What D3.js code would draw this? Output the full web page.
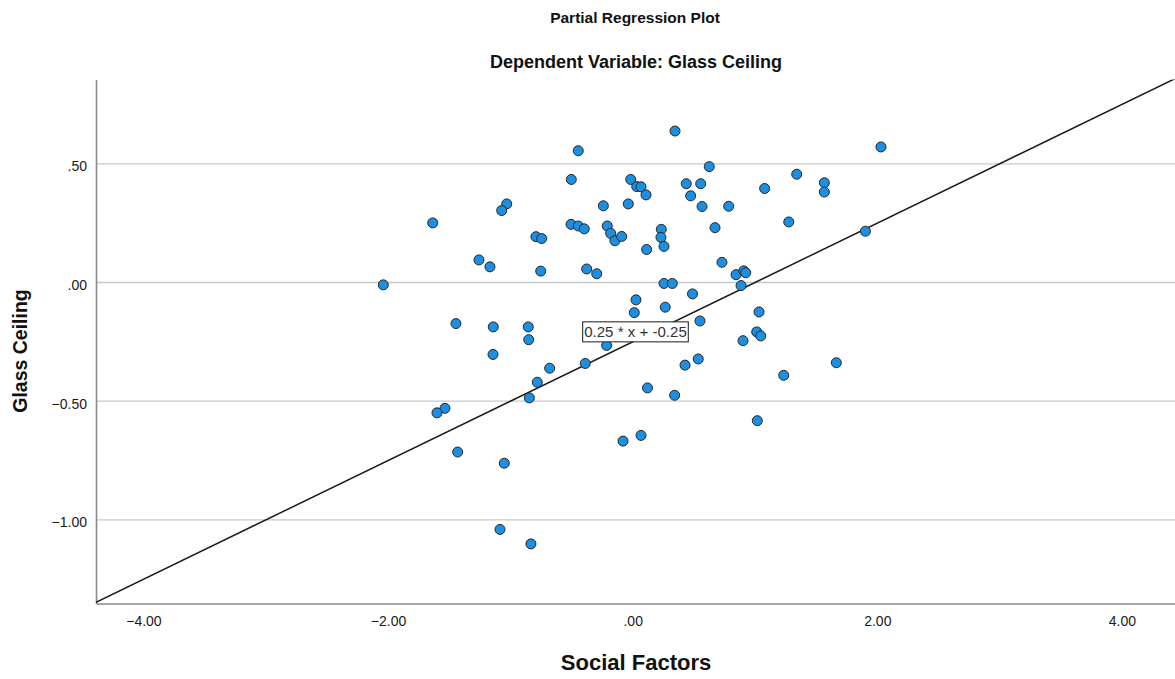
<!DOCTYPE html>
<html>
<head>
<meta charset="utf-8">
<script src="https://cdn.jsdelivr.net/npm/d3@7"></script>
<style>
  body { margin: 0; background: #fff; }
  text { font-family: Arial, "Liberation Sans", sans-serif; }
</style>
</head>
<body>
<svg id="chart" width="1175" height="679"></svg>
<script>
// Partial regression residuals: Social Factors (x) vs Glass Ceiling (y)
const socialFactors = [
  -0.445, -0.502, -0.016, 0.033, 0.068, 0.109, -1.030, -1.071, -1.635, -0.240,
  -0.036, -0.504, -0.445, -0.396, -0.208, -0.180, -0.145, -0.090, 0.234, 0.231,
  0.114, -0.791, -0.744, -1.257, -1.167, -0.752, -0.376, -0.294, -2.039, 0.027,
  0.013, 0.346, 2.030, 0.626, 1.341, 1.567, 1.567, 0.438, 0.556, 0.474,
  1.079, 0.567, 0.785, 1.276, 1.903, 0.673, 0.256, 0.730, 0.845, 0.908,
  0.924, 0.886, 0.256, 0.324, 0.489, 0.266, 1.033, -1.445, -1.140, -0.854,
  -0.850, -1.142, -0.213, -0.388, -0.679, -0.780, -0.845, -1.535, -1.600, 0.121,
  -0.079, 0.068, -1.431, -1.050, -1.085, -0.832, 0.550, 1.014, 1.047, 0.902,
  0.536, 0.428, 1.665, 1.235, 0.343, 1.019
];
const glassCeiling = [
  0.555, 0.434, 0.434, 0.404, 0.403, 0.369, 0.331, 0.303, 0.251, 0.323,
  0.331, 0.245, 0.238, 0.226, 0.238, 0.207, 0.176, 0.194, 0.224, 0.190,
  0.139, 0.193, 0.185, 0.095, 0.066, 0.048, 0.057, 0.037, -0.010, -0.073,
  -0.127, 0.638, 0.571, 0.488, 0.456, 0.420, 0.381, 0.416, 0.416, 0.365,
  0.396, 0.320, 0.321, 0.255, 0.216, 0.231, 0.152, 0.085, 0.033, 0.049,
  0.041, -0.013, -0.004, -0.004, -0.048, -0.104, -0.124, -0.173, -0.187, -0.187,
  -0.241, -0.303, -0.265, -0.341, -0.361, -0.420, -0.486, -0.530, -0.549, -0.444,
  -0.668, -0.644, -0.714, -0.761, -1.040, -1.101, -0.162, -0.208, -0.225, -0.245,
  -0.322, -0.348, -0.338, -0.391, -0.475, -0.582
];
const xTicks = [-4, -2, 0, 2, 4];
const yTicks = [0.5, 0, -0.5, -1];
const fitSlope = 0.25;
const fitIntercept = -0.25;

const titleText = "Partial Regression Plot";
const subtitleText = "Dependent Variable: Glass Ceiling";
const xLabel = "Social Factors";
const yLabel = "Glass Ceiling";

const plot = { left: 96, right: 1175, top: 79.5, bottom: 603.5 };

const svg = d3.select("#chart");

const x = d3.scaleLinear().domain([-4.388, 4.434]).range([plot.left, plot.right]);
const y = d3.scaleLinear().domain([-1.352, 0.855]).range([plot.bottom, plot.top]);

// SPSS-style tick text: ".50", "-.50", "-1.00"
const fmt = v => d3.format(".2f")(v).replace(/^(-?)0\./, "$1.");

// horizontal grid lines
svg.append("g")
  .selectAll("line")
  .data(yTicks)
  .join("line")
  .attr("x1", plot.left)
  .attr("x2", plot.right)
  .attr("y1", d => y(d))
  .attr("y2", d => y(d))
  .attr("stroke", "#c8c8c8")
  .attr("stroke-width", 1.3);

// axes via d3-axis, with tick marks hidden
const xAxis = svg.append("g")
  .attr("transform", `translate(0,${plot.bottom})`)
  .call(d3.axisBottom(x).tickValues(xTicks).tickFormat(fmt).tickSize(0).tickPadding(13));
const yAxis = svg.append("g")
  .attr("transform", `translate(${plot.left},0)`)
  .call(d3.axisLeft(y).tickValues(yTicks).tickFormat(fmt).tickSize(0).tickPadding(9));

[xAxis, yAxis].forEach(g => {
  g.select(".domain").attr("stroke", "#8a8a8a").attr("stroke-width", 1.6);
  g.selectAll("text")
    .attr("fill", "#1a1a1a")
    .style("font-size", "14px")
    .style("font-family", "Arial, 'Liberation Sans', sans-serif");
});
yAxis.selectAll("text").attr("dy", "0.5em");

// fit line clipped to the plot area
svg.append("clipPath").attr("id", "plotClip")
  .append("rect")
  .attr("x", plot.left).attr("y", plot.top)
  .attr("width", plot.right - plot.left).attr("height", plot.bottom - plot.top);

const [x0, x1] = x.domain();
const fitLine = d3.line().x(d => x(d)).y(d => y(fitSlope * d + fitIntercept));
svg.append("path")
  .attr("clip-path", "url(#plotClip)")
  .attr("d", fitLine([x0, x1]))
  .attr("fill", "none")
  .attr("stroke", "#1a1a1a")
  .attr("stroke-width", 1.5);

// points
const points = socialFactors.map((v, i) => ({ x: v, y: glassCeiling[i] }));
svg.append("g")
  .selectAll("circle")
  .data(points)
  .join("circle")
  .attr("cx", d => x(d.x))
  .attr("cy", d => y(d.y))
  .attr("r", 5)
  .attr("fill", "#1d8fe1")
  .attr("stroke", "#262626")
  .attr("stroke-width", 1);

// fit equation label, sitting on the line at x = 0
const eqText = `${fitSlope} * x + ${fitIntercept}`;
const eqG = svg.append("g");
const eqBottom = y(fitSlope * 0 + fitIntercept);
const eqCx = x(0) + 2.8;
const eqW = 105.6, eqH = 20;
eqG.append("rect")
  .attr("x", eqCx - eqW / 2)
  .attr("y", eqBottom - eqH)
  .attr("width", eqW)
  .attr("height", eqH)
  .attr("fill", "#fff")
  .attr("stroke", "#1a1a1a")
  .attr("stroke-width", 1);
eqG.append("text")
  .attr("x", eqCx - eqW / 2 + 1.5)
  .attr("y", eqBottom - 4.5)
  .attr("fill", "#333")
  .attr("textLength", eqW - 3)
  .attr("lengthAdjust", "spacingAndGlyphs")
  .style("font-size", "15px")
  .text(eqText);

// titles
svg.append("text")
  .attr("x", 635).attr("y", 23)
  .attr("text-anchor", "middle")
  .attr("font-weight", "bold")
  .attr("fill", "#111")
  .style("font-size", "15.5px")
  .text(titleText);
svg.append("text")
  .attr("x", 636).attr("y", 67.5)
  .attr("text-anchor", "middle")
  .attr("font-weight", "bold")
  .attr("fill", "#111")
  .style("font-size", "18px")
  .text(subtitleText);

// axis titles
svg.append("text")
  .attr("x", 636).attr("y", 670)
  .attr("text-anchor", "middle")
  .attr("font-weight", "bold")
  .attr("fill", "#111")
  .style("font-size", "22px")
  .text(xLabel);
svg.append("text")
  .attr("transform", "translate(27,351) rotate(-90)")
  .attr("text-anchor", "middle")
  .attr("font-weight", "bold")
  .attr("fill", "#111")
  .style("font-size", "19.5px")
  .text(yLabel);
</script>
</body>
</html>
